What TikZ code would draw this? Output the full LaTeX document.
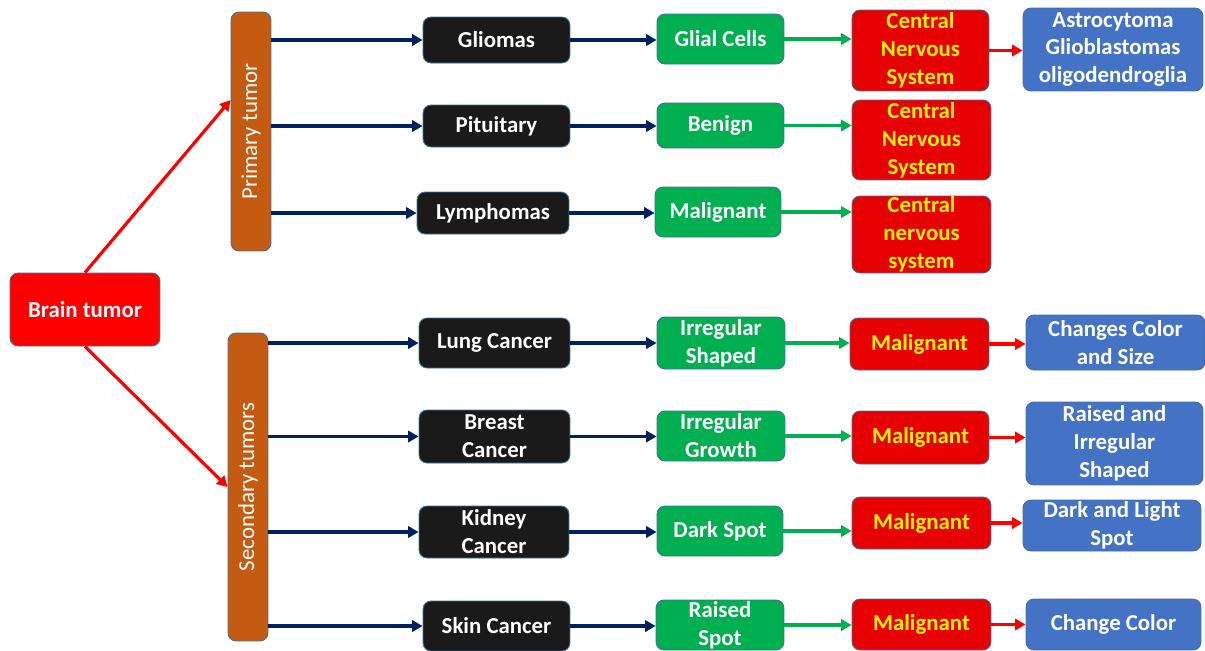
\documentclass[tikz,border=0pt]{standalone}
\usepackage{fontspec}
\setmainfont{Carlito}
\usepackage{tikz}
\usetikzlibrary{calc, arrows.meta}

\definecolor{bordc}{HTML}{41719C}
\definecolor{barc}{HTML}{C55A11}
\definecolor{blkc}{HTML}{1A1A1A}
\definecolor{grnc}{HTML}{00B050}
\definecolor{redc}{HTML}{E60000}
\definecolor{bluc}{HTML}{4472C4}
\definecolor{navyc}{HTML}{002060}

\tikzset{
  box/.style={draw=bordc, line width=0.5pt, rounded corners=0.16cm, inner sep=0pt,
    align=center, text=white, font=\fontsize{13}{15.9}\selectfont\bfseries},
  blk/.style={box, fill=blkc},
  grn/.style={box, fill=grnc},
  rd/.style={box, fill=redc, text=yellow},
  blu/.style={box, fill=bluc},
  tbar/.style={box, fill=barc, font=\fontsize{13}{15.9}\selectfont},
  sz/.style 2 args={minimum width=#1cm, minimum height=#2cm},
  nav/.style={-{Triangle[length=6pt,width=6.5pt]}, navyc, line width=1.8pt},
  grw/.style={-{Triangle[length=6pt,width=6.5pt]}, grnc, line width=1.8pt},
  rdw/.style={-{Triangle[length=6pt,width=6.5pt]}, red, line width=1.8pt},
}

\begin{document}
\begin{tikzpicture}[x=0.02cm, y=-0.02cm]
        \useasboundingbox (0,0) rectangle (1205,650);

        % root and the two groups
        \node[box, fill=red, sz={3.0}{1.46}] (brain) at (85,309.5) {Brain tumor};
        \node[tbar, sz={0.8}{4.78}] (pri) at (251,131.5) {\rotatebox{90}{Primary tumor}};
        \node[tbar, sz={0.8}{6.16}] (sec) at (248,487) {\rotatebox{90}{Secondary tumors}};
        \coordinate (priin) at ($(pri.west)+(0,-31.5)$);
        \draw[rdw] (brain.north) -- (priin);
        \draw[rdw] (brain.south) -- (sec.west);

        % primary tumors
        \node[blk, sz={2.94}{0.92}] (glio) at (496.5,40) {Gliomas};
        \node[blk, sz={2.94}{0.84}] (pitu) at (496.5,126) {Pituitary};
        \node[blk, sz={3.04}{0.84}] (lymp) at (493,213) {Lymphomas};

        \node[grn, sz={2.54}{1.0}] (glial) at (720.5,39) {Glial Cells};
        \node[grn, sz={2.54}{0.9}] (beni) at (720.5,125.5) {Benign};
        \node[grn, sz={2.52}{1.0}] (mali) at (718,212) {Malignant};

        \node[rd, sz={2.74}{1.62}] (cnsa) at (920.5,50.5) {Central\\Nervous\\System};
        \node[rd, sz={2.78}{1.6}] (cnsb) at (921.5,140) {Central\\Nervous\\System};
        \node[rd, sz={2.78}{1.54}] (cnsc) at (921.5,234.5) {Central\\nervous\\system};

        \node[blu, sz={3.6}{1.66}] (astro) at (1113,49.5) {Astrocytoma\\Glioblastomas\\oligodendroglia};

        \draw[nav] (pri.east |- glio.west) -- (glio.west);
        \draw[nav] (pri.east |- pitu.west) -- (pitu.west);
        \draw[nav] (pri.east |- lymp.west) -- (lymp.west);
        \draw[nav] (glio.east) -- (glio.east -| glial.west);
        \draw[nav] (pitu.east) -- (pitu.east -| beni.west);
        \draw[nav] (lymp.east) -- (lymp.east -| mali.west);
        \draw[grw] (glial.east) -- (glial.east -| cnsa.west);
        \draw[grw] (beni.east) -- (beni.east -| cnsb.west);
        \draw[grw] (mali.east) -- (mali.east -| cnsc.west);
        \draw[rdw] (cnsa.east) -- (cnsa.east -| astro.west);

        % secondary tumors
        \node[blk, sz={3.02}{1.0}] (lung) at (494.5,343) {Lung Cancer};
        \node[blk, sz={3.02}{1.06}] (brea) at (494.5,436.5) {Breast\\Cancer};
        \node[blk, sz={3.0}{1.04}] (kidn) at (494,532) {Kidney\\Cancer};
        \node[blk, sz={2.94}{1.0}] (skin) at (496.5,626) {Skin Cancer};

        \node[grn, sz={2.56}{1.04}] (irsh) at (721,343) {Irregular\\Shaped};
        \node[grn, sz={2.56}{1.0}] (irgr) at (721,436) {Irregular\\Growth};
        \node[grn, sz={2.52}{1.0}] (dark) at (720,531) {Dark Spot};
        \node[grn, sz={2.56}{1.0}] (rais) at (720,625) {Raised\\Spot};

        \node[rd, sz={2.78}{1.04}] (mala) at (919.5,344) {Malignant};
        \node[rd, sz={2.74}{1.06}] (malb) at (920.5,437.5) {Malignant};
        \node[rd, sz={2.78}{1.04}] (malc) at (921.5,523) {Malignant};
        \node[rd, sz={2.78}{1.02}] (mald) at (921.5,624.5) {Malignant};

        \node[blu, sz={3.58}{1.1}] (chcs) at (1115.5,342.5) {Changes Color\\and Size};
        \node[blu, sz={3.54}{1.66}] (rirr) at (1114.5,443.5) {Raised and\\Irregular\\Shaped};
        \node[blu, sz={3.56}{1.02}] (dkls) at (1112,525.5) {Dark and Light\\Spot};
        \node[blu, sz={3.5}{1.02}] (chco) at (1113.5,624.5) {Change Color};

        \draw[nav] (sec.east |- lung.west) -- (lung.west);
        \draw[nav] (sec.east |- brea.west) -- (brea.west);
        \draw[nav] (sec.east |- kidn.west) -- (kidn.west);
        \draw[nav] (sec.east |- skin.west) -- (skin.west);
        \draw[nav] (lung.east) -- (lung.east -| irsh.west);
        \draw[nav] (brea.east) -- (brea.east -| irgr.west);
        \draw[nav] (kidn.east) -- (kidn.east -| dark.west);
        \draw[nav] (skin.east) -- (skin.east -| rais.west);
        \draw[grw] (irsh.east) -- (irsh.east -| mala.west);
        \draw[grw] (irgr.east) -- (irgr.east -| malb.west);
        \draw[grw] (dark.east) -- (dark.east -| malc.west);
        \draw[grw] (rais.east) -- (rais.east -| mald.west);
        \draw[rdw] (mala.east) -- (mala.east -| chcs.west);
        \draw[rdw] (malb.east) -- (malb.east -| rirr.west);
        \draw[rdw] (malc.east) -- (malc.east -| dkls.west);
        \draw[rdw] (mald.east) -- (mald.east -| chco.west);
\end{tikzpicture}
\end{document}
